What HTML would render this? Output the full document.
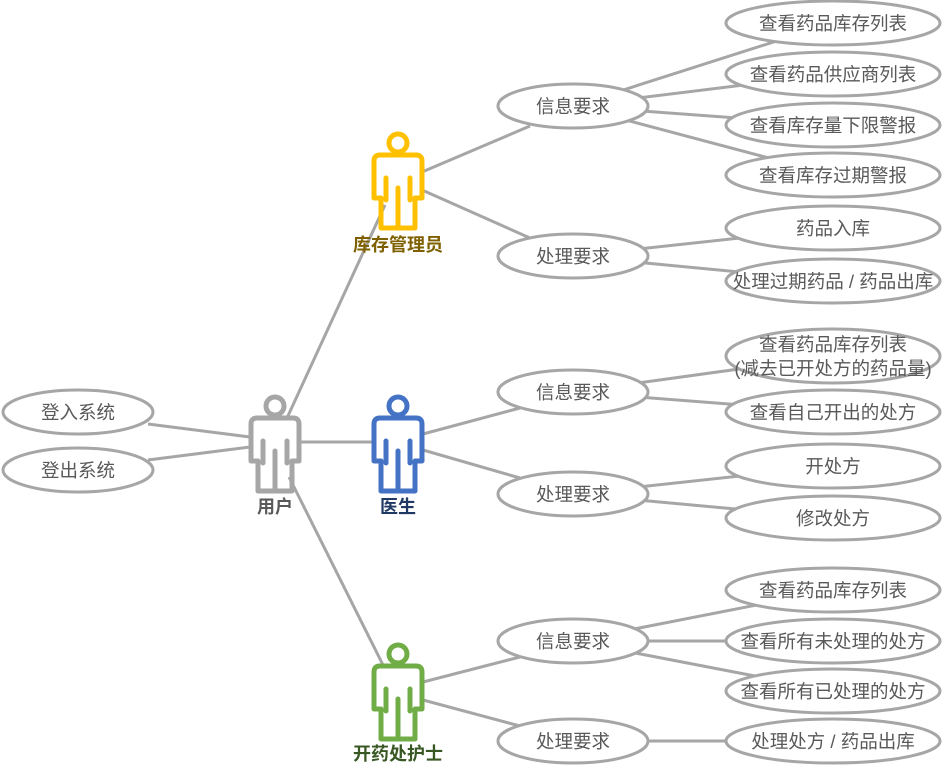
<!DOCTYPE html>
<html><head><meta charset="utf-8"><style>
html,body{margin:0;padding:0;background:#fff;}
svg{display:block;}
text{font-family:"Liberation Sans","Noto Sans CJK SC",sans-serif;}
</style></head><body>
<svg width="945" height="774" viewBox="0 0 945 774" xmlns="http://www.w3.org/2000/svg">
<defs>
<g id="actor" fill="none" stroke-width="5" stroke-linejoin="round" stroke-linecap="round">
  <circle cx="0" cy="-12" r="9"/>
  <path d="M-18,0 L18,0 Q24,0 24,6 L24,43 L17,43 L17,73 L-17,73 L-17,43 L-24,43 L-24,6 Q-24,0 -18,0 Z"/>
  <path d="M-12,23 L-12,45 M12,23 L12,45 M0,33 L0,73"/>
</g>
</defs>
<g stroke="#a6a6a6" stroke-width="3" fill="none">
  <line x1="148" y1="424" x2="250" y2="437"/>
  <line x1="148" y1="460" x2="250" y2="447"/>
  <line x1="287" y1="418" x2="385" y2="205"/>
  <line x1="289" y1="477" x2="383" y2="665"/>
  <line x1="300" y1="442" x2="373" y2="442"/>
  <line x1="422" y1="172" x2="530" y2="126"/>
  <line x1="422" y1="190" x2="530" y2="238"/>
  <line x1="423" y1="434" x2="520" y2="408"/>
  <line x1="423" y1="450" x2="520" y2="478"/>
  <line x1="423" y1="682" x2="520" y2="657"/>
  <line x1="423" y1="700" x2="520" y2="726"/>
  <line x1="573" y1="106" x2="833" y2="23"/>
  <line x1="573" y1="106" x2="833" y2="74"/>
  <line x1="573" y1="106" x2="833" y2="125"/>
  <line x1="573" y1="106" x2="833" y2="175"/>
  <line x1="573" y1="256" x2="833" y2="228"/>
  <line x1="573" y1="256" x2="833" y2="281"/>
  <line x1="573" y1="392" x2="833" y2="356"/>
  <line x1="573" y1="392" x2="833" y2="412"/>
  <line x1="573" y1="494" x2="833" y2="466"/>
  <line x1="573" y1="494" x2="833" y2="518"/>
  <line x1="573" y1="641" x2="833" y2="590"/>
  <line x1="573" y1="641" x2="833" y2="641"/>
  <line x1="573" y1="641" x2="833" y2="691"/>
  <line x1="573" y1="741" x2="833" y2="741"/>
</g>
<g stroke="#a6a6a6" stroke-width="3" fill="#fff">
  <ellipse cx="78" cy="412" rx="75" ry="22"/>
  <ellipse cx="78" cy="470" rx="75" ry="22"/>
  <ellipse cx="573" cy="106" rx="75" ry="22"/>
  <ellipse cx="573" cy="256" rx="75" ry="22"/>
  <ellipse cx="573" cy="392" rx="75" ry="22"/>
  <ellipse cx="573" cy="494" rx="75" ry="22"/>
  <ellipse cx="573" cy="641" rx="75" ry="22"/>
  <ellipse cx="573" cy="741" rx="75" ry="22"/>
  <ellipse cx="833" cy="23" rx="107" ry="22"/>
  <ellipse cx="833" cy="74" rx="107" ry="22"/>
  <ellipse cx="833" cy="125" rx="107" ry="22"/>
  <ellipse cx="833" cy="175" rx="107" ry="22"/>
  <ellipse cx="833" cy="228" rx="107" ry="22"/>
  <ellipse cx="833" cy="281" rx="107" ry="22"/>
  <ellipse cx="833" cy="356" rx="107" ry="27"/>
  <ellipse cx="833" cy="412" rx="107" ry="22"/>
  <ellipse cx="833" cy="466" rx="107" ry="22"/>
  <ellipse cx="833" cy="518" rx="107" ry="22"/>
  <ellipse cx="833" cy="590" rx="107" ry="22"/>
  <ellipse cx="833" cy="641" rx="107" ry="22"/>
  <ellipse cx="833" cy="691" rx="107" ry="22"/>
  <ellipse cx="833" cy="741" rx="107" ry="22"/>
</g>
<use href="#actor" x="275" y="418" stroke="#a6a6a6"/>
<use href="#actor" x="398" y="418" stroke="#4472c4"/>
<use href="#actor" x="398" y="155" stroke="#ffc000"/>
<use href="#actor" x="398" y="666" stroke="#70ad47"/>
<g font-size="18" font-weight="bold" text-anchor="middle">
  <text x="275" y="513" fill="#595959">用户</text>
  <text x="398" y="513" fill="#203864">医生</text>
  <text x="398" y="251" fill="#7f6000">库存管理员</text>
  <text x="398" y="760" fill="#385723">开药处护士</text>
</g>
<g font-size="18.5" fill="#595959" text-anchor="middle">
  <text x="78" y="419">登入系统</text>
  <text x="78" y="477">登出系统</text>
  <text x="573" y="113">信息要求</text>
  <text x="573" y="263">处理要求</text>
  <text x="573" y="399">信息要求</text>
  <text x="573" y="501">处理要求</text>
  <text x="573" y="648">信息要求</text>
  <text x="573" y="748">处理要求</text>
  <text x="833" y="30">查看药品库存列表</text>
  <text x="833" y="81">查看药品供应商列表</text>
  <text x="833" y="132">查看库存量下限警报</text>
  <text x="833" y="182">查看库存过期警报</text>
  <text x="833" y="235">药品入库</text>
  <text x="833" y="288">处理过期药品 / 药品出库</text>
  <text x="833" y="351">查看药品库存列表</text>
  <text x="833" y="375">(减去已开处方的药品量)</text>
  <text x="833" y="419">查看自己开出的处方</text>
  <text x="833" y="473">开处方</text>
  <text x="833" y="525">修改处方</text>
  <text x="833" y="597">查看药品库存列表</text>
  <text x="833" y="648">查看所有未处理的处方</text>
  <text x="833" y="698">查看所有已处理的处方</text>
  <text x="833" y="748">处理处方 / 药品出库</text>
</g>
</svg>
</body></html>
